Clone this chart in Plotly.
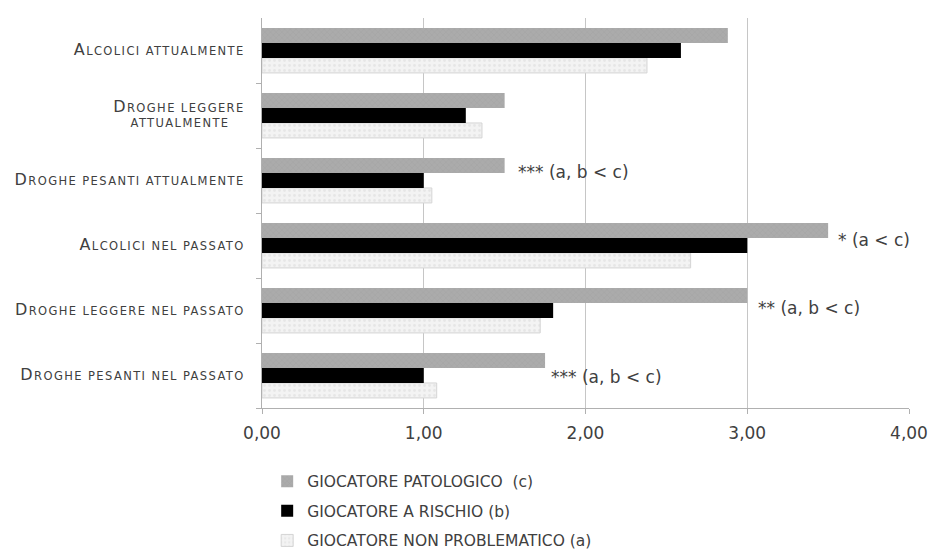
import plotly.graph_objects as go

categories = [
    "Alcolici attualmente",
    "Droghe leggere<br>attualmente",
    "Droghe pesanti attualmente",
    "Alcolici nel passato",
    "Droghe leggere nel passato",
    "Droghe pesanti nel passato",
]
patologico = [2.88, 1.50, 1.50, 3.50, 3.00, 1.75]
rischio = [2.59, 1.26, 1.00, 3.00, 1.80, 1.00]
non_problematico = [2.38, 1.36, 1.05, 2.65, 1.72, 1.08]

series_names = [
    "GIOCATORE NON PROBLEMATICO (a)",
    "GIOCATORE A RISCHIO (b)",
    "GIOCATORE PATOLOGICO  (c)",
]

sig_labels = ["", "", "*** (a, b < c)", "* (a < c)", "** (a, b < c)", "*** (a, b < c)"]

num_family = "DejaVu Sans, sans-serif"
legend_family = "DejaVu Sans, sans-serif"
label_family = "DejaVu Sans, sans-serif"
text_color = "#404040"


def small_caps(label):
    lines = label.split("<br>")
    out = []
    for i, line in enumerate(lines):
        words = []
        for j, w in enumerate(line.split(" ")):
            if i == 0 and j == 0:
                words.append("<span style='font-size:16px'>" + w[0].upper() + "</span>" + w[1:].upper())
            else:
                words.append(w.upper())
        txt = " ".join(words)
        if i > 0:
            txt = txt + "\u00a0\u00a0\u00a0"
        out.append("<span style='letter-spacing:1.4px'>" + txt + "</span>")
    return "<br>".join(out)


tick_text = [small_caps(c) for c in categories]

fig = go.Figure()
fig.add_trace(go.Bar(
    y=categories, x=non_problematico, orientation="h", name=series_names[0],
    legendgroup="a", legendrank=3,
    marker=dict(color="#f1f1f1", line=dict(color="#d4d4d4", width=1),
                pattern=dict(shape=".", fgcolor="#dadada", bgcolor="#f3f3f3", size=5, solidity=0.25)),
))
fig.add_trace(go.Bar(
    y=categories, x=rischio, orientation="h", name=series_names[1],
    legendgroup="b", legendrank=2,
    marker=dict(color="#000000", line=dict(width=0)),
))
fig.add_trace(go.Bar(
    y=categories, x=patologico, orientation="h", name=series_names[2],
    legendgroup="c", legendrank=1,
    marker=dict(color="#a6a6a6", line=dict(width=0),
                pattern=dict(shape="x", fgcolor="#999999", bgcolor="#ababab", size=4, solidity=0.2)),
))

xshifts = [0, 0, 11, 8, 9, 4]
yshifts = [0, 0, 9, 6, 3, -1]
for cat, val, lab, xs, ys in zip(categories, patologico, sig_labels, xshifts, yshifts):
    if lab:
        fig.add_annotation(x=val, y=cat, text=lab, showarrow=False, xanchor="left",
                           xshift=xs, yshift=ys,
                           font=dict(family=num_family, size=17, color=text_color))

fig.update_layout(
    width=931, height=551,
    margin=dict(l=262, r=22, t=18, b=143, autoexpand=False),
    paper_bgcolor="white", plot_bgcolor="white",
    barmode="group", bargap=0.31, bargroupgap=0,
    separators=",.",
    showlegend=True,
    legend=dict(orientation="v", x=0.008, xanchor="left", y=-0.145, yanchor="top",
                traceorder="grouped", tracegroupgap=6.5,
                font=dict(family=legend_family, size=15.5, color=text_color),
                bgcolor="rgba(0,0,0,0)"),
    xaxis=dict(range=[0, 4], dtick=1, tickformat=".2f", showgrid=True,
               gridcolor="#c6c6c6", gridwidth=1, zeroline=False,
               showline=True, linecolor="#b0b0b0", ticks="outside", ticklen=5,
               tickcolor="#b0b0b0", ticklabelstandoff=5,
               tickfont=dict(family=num_family, size=17, color=text_color)),
    yaxis=dict(categoryorder="array", categoryarray=categories[::-1],
               tickmode="array", tickvals=categories, ticktext=tick_text,
               showline=True, linecolor="#b0b0b0", ticks="outside", ticklen=5,
               tickcolor="#b0b0b0", tickson="boundaries", showgrid=False,
               ticklabelstandoff=14,
               tickfont=dict(family=label_family, size=11.5, color=text_color)),
)

fig.write_html("out.html")
